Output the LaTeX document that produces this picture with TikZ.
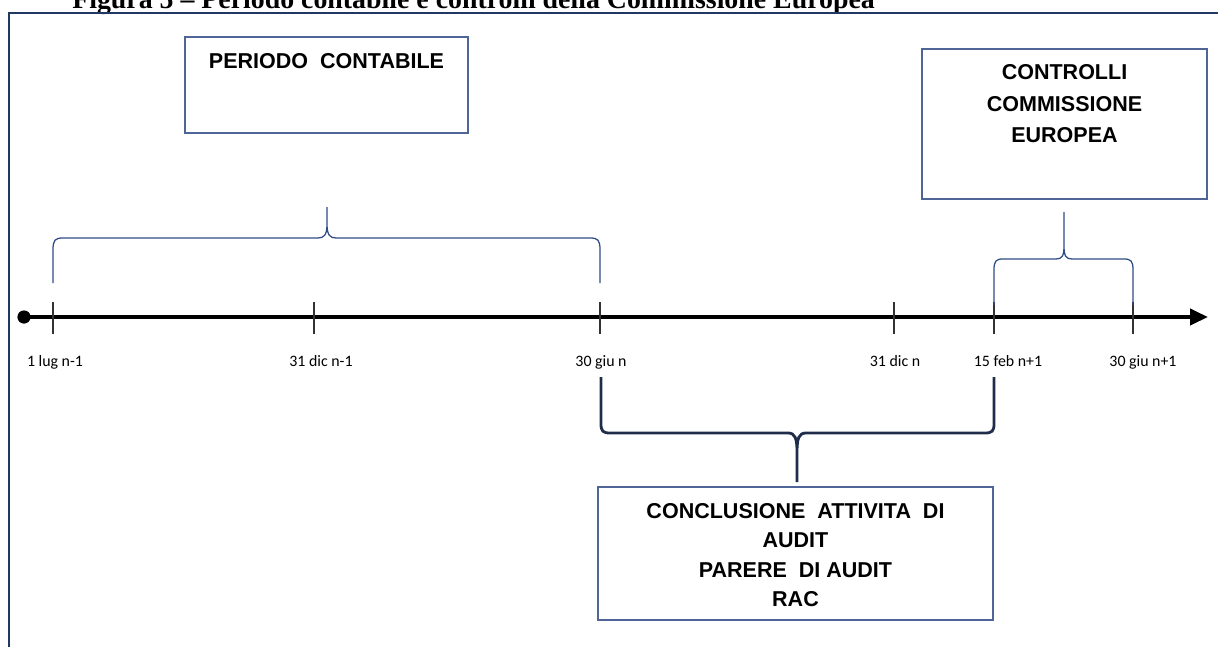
\documentclass[tikz,border=0pt]{standalone}
\usepackage{fontspec}
\usepackage{xcolor}
\usepackage{tikz}
\usetikzlibrary{calc,positioning,arrows.meta}
\newfontfamily\boxfont{Liberation Sans}
\newfontfamily\datefont{Carlito}
\newfontfamily\captionfont{Liberation Serif}
\definecolor{framenavy}{HTML}{203864}
\definecolor{boxblue}{HTML}{4F6598}
\definecolor{bracetop}{HTML}{2F4B85}
\definecolor{bracebot}{HTML}{1F2D4A}

\begin{document}
\begin{tikzpicture}[x=0.025cm, y=-0.025cm,
        period/.style={draw=boxblue, line width=0.9pt, inner sep=0pt},
        boxtext/.style={inner sep=0pt, align=center, font=\boxfont\bfseries\fontsize{15.3}{22.4}\selectfont},
        datelabel/.style={anchor=base, inner sep=0pt, font=\datefont\fontsize{11.3}{13}\selectfont},
        tickmark/.style={draw=black!80, line width=1pt},
        bracetop/.style={draw=bracetop, line width=0.9pt},
        bracebot/.style={draw=bracebot, line width=2pt}]
        \useasboundingbox (0,0) rectangle (1218,646);
        \clip (0,0) rectangle (1218,646);

        % caption and frame
        \node [anchor=base west, inner sep=0pt, font=\captionfont\bfseries\fontsize{19.8}{24}\selectfont] (caption) at (72,8) {Figura 5 – Periodo contabile e controlli della Commissione Europea};
        \draw [framenavy, line width=1.4pt] (9,13) rectangle (1240,670);

        % time line
        \node [circle, fill=black, inner sep=0pt, minimum size=0.33cm] (origin) at (24,317) {};
        \coordinate (arrowtip) at (1208,317);
        \draw [line width=2.8pt, -{Triangle[length=12.8pt, width=11.4pt]}] (origin.center) -- (arrowtip);

        \coordinate (t1) at (53,317);
        \coordinate (t2) at (314,317);
        \coordinate (t3) at (600,317);
        \coordinate (t4) at (894,317);
        \coordinate (t5) at (994,317);
        \coordinate (t6) at (1133,317);
        \foreach \t in {t1,t2,t3,t4,t5,t6}
            \draw [tickmark] ($(\t)+(0,-15)$) -- ($(\t)+(0,17)$);

        \node [datelabel] (d1) at (55,366) {1 lug n-1};
        \node [datelabel] (d2) at (321,366) {31 dic n-1};
        \node [datelabel] (d3) at (601,366) {30 giu n};
        \node [datelabel] (d4) at (895,366) {31 dic n};
        \node [datelabel] (d5) at (1008,366) {15 feb n+1};
        \node [datelabel] (d6) at (1143,366) {30 giu n+1};

        % boxes
        \node [period, minimum width=7.075cm, minimum height=2.4cm] (periodbox) at (326.5,85) {};
        \node [boxtext, below=0.42cm of periodbox.north] (periodtext) {PERIODO\ \ CONTABILE};

        \node [period, minimum width=7.125cm, minimum height=3.75cm] (ctrlbox) at (1064.5,124) {};
        \node [boxtext, below=0.4cm of ctrlbox.north] (ctrltext) {CONTROLLI\\COMMISSIONE\\EUROPEA};

        \node [period, minimum width=9.875cm, minimum height=3.325cm] (auditbox) at (795.5,553.5) {};
        \node [boxtext, font=\boxfont\bfseries\fontsize{15.3}{21}\selectfont, below=0.41cm of auditbox.north] (audittext) {CONCLUSIONE\ \ ATTIVITA\ \ DI\\AUDIT\\PARERE\ \ DI AUDIT\\RAC};

        % braces
        \draw [bracetop] (53,283) -- (53,250) .. controls (53,240) and (55,238) .. (63,238) -- (318,238)
            .. controls (324,238) and (327,235) .. (327,224) -- (327,207) -- (327,224)
            .. controls (327,235) and (330,238) .. (336,238) -- (590,238)
            .. controls (598,238) and (600,240) .. (600,250) -- (600,283);

        \draw [bracetop] (994,305) -- (994,270) .. controls (994,261) and (996,259) .. (1003,259) -- (1056,259)
            .. controls (1062,259) and (1064,256) .. (1064,246) -- (1064,212) -- (1064,246)
            .. controls (1064,256) and (1066,259) .. (1072,259) -- (1124,259)
            .. controls (1131,259) and (1133,261) .. (1133,270) -- (1133,305);

        \draw [bracebot] (601,377) -- (601,424) .. controls (601,431) and (603,433) .. (610,433) -- (788,433)
            .. controls (795,433) and (797,438) .. (797,452) -- (797,482) -- (797,452)
            .. controls (797,438) and (799,433) .. (806,433) -- (985,433)
            .. controls (992,433) and (994,431) .. (994,424) -- (994,377);
\end{tikzpicture}
\end{document}
